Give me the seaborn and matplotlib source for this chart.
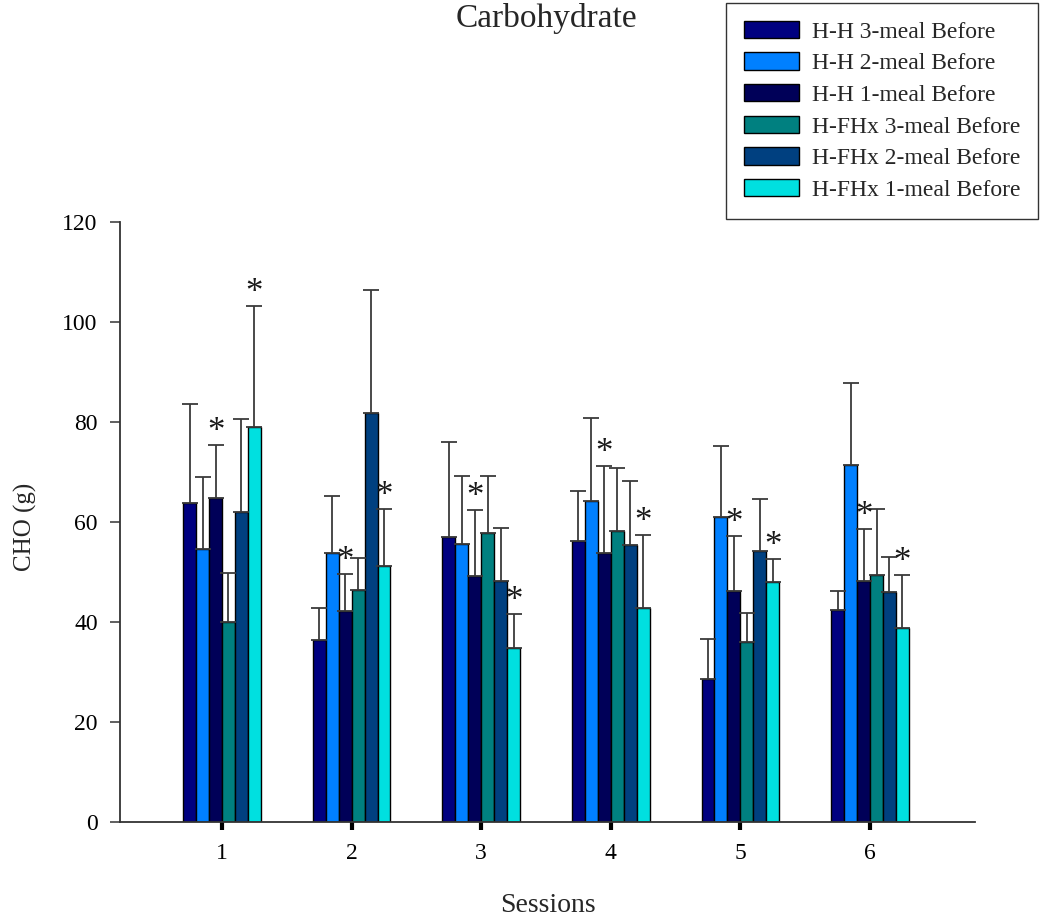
import numpy as np
import pandas as pd
import matplotlib
matplotlib.use("Agg")
import matplotlib.pyplot as plt
import seaborn as sns

sessions = ["1", "2", "3", "4", "5", "6"]
groups = ["H-H 3-meal Before", "H-H 2-meal Before", "H-H 1-meal Before",
          "H-FHx 3-meal Before", "H-FHx 2-meal Before", "H-FHx 1-meal Before"]
colors = ["#000080", "#0080FF", "#000058", "#008080", "#004080", "#00E0E0"]

hh3_mean = [63.9, 36.4, 57.1, 56.3, 28.7, 42.5]
hh2_mean = [54.7, 53.9, 55.6, 64.2, 61.1, 71.4]
hh1_mean = [64.8, 42.2, 49.2, 53.9, 46.2, 48.3]
hf3_mean = [40.1, 46.5, 57.8, 58.3, 36.0, 49.4]
hf2_mean = [62.1, 81.8, 48.3, 55.5, 54.3, 46.1]
hf1_mean = [79.1, 51.3, 34.9, 42.8, 48.0, 38.8]

hh3_top = [83.6, 42.9, 76.0, 66.2, 36.7, 46.3]
hh2_top = [69.0, 65.3, 69.3, 80.9, 75.3, 87.9]
hh1_top = [75.5, 49.7, 62.5, 71.3, 57.3, 58.7]
hf3_top = [49.9, 52.9, 69.3, 70.9, 41.9, 62.7]
hf2_top = [80.6, 106.4, 58.9, 68.3, 64.7, 53.1]
hf1_top = [103.2, 62.6, 41.7, 57.4, 52.7, 49.5]

# significance markers
star_hh1 = [1, 1, 1, 1, 1, 1]
star_hf1 = [1, 1, 1, 1, 1, 1]

means = [hh3_mean, hh2_mean, hh1_mean, hf3_mean, hf2_mean, hf1_mean]
tops = [hh3_top, hh2_top, hh1_top, hf3_top, hf2_top, hf1_top]
stars = [None, None, star_hh1, None, None, star_hf1]

rows = []
for g, m in zip(groups, means):
    for s, v in zip(sessions, m):
        rows.append({"Session": s, "Group": g, "CHO": v})
df = pd.DataFrame(rows)

sns.set_theme(style="white")
plt.rcParams["font.family"] = ["Liberation Serif", "DejaVu Serif"]

fig = plt.figure(figsize=(10.41, 9.22), dpi=100)
ax = fig.add_axes([120/1041, 1-822/922, (975-120)/1041, 600/922])

sns.barplot(data=df, x="Session", y="CHO", hue="Group", order=sessions,
            hue_order=groups, palette=colors, width=0.6, errorbar=None,
            edgecolor="black", linewidth=1.0, ax=ax, saturation=1, legend=True)

bar_containers = list(ax.containers)
for i, cont in enumerate(bar_containers):
    xs = [p.get_x() + p.get_width()/2 for p in cont.patches]
    hs = [p.get_height() for p in cont.patches]
    errs = [t - h for t, h in zip(tops[i], hs)]
    ax.errorbar(xs, hs, yerr=[np.zeros(len(hs)), errs], fmt="none",
                ecolor="#3a3a3a", elinewidth=1.3, capsize=6, capthick=1.3, zorder=1)
    if stars[i] is not None:
        for x, t, st in zip(xs, tops[i], stars[i]):
            if st:
                ax.text(x, t - 0.8, "*", ha="center", va="bottom", fontsize=25,
                        color="#1a1a1a")

ax.set_ylim(0, 120)
ax.set_xlim(0.213 - 1, 6.81 - 1)
ax.set_yticks(np.arange(0, 121, 20))
ax.tick_params(axis="both", labelsize=17, direction="out", colors="black",
               left=True, bottom=True)
ax.tick_params(axis="y", length=7, width=1.2, pad=9, color="#444444")
ax.tick_params(axis="x", width=3, length=6, pad=9)
for sp in ["top", "right"]:
    ax.spines[sp].set_visible(False)
for sp in ["left", "bottom"]:
    ax.spines[sp].set_color("#333333")
    ax.spines[sp].set_linewidth(1.3)
ax.set_xlabel("Sessions", fontsize=20, va="center")
ax.xaxis.set_label_coords(0.5, (822-905)/600)
ax.set_ylabel("CHO (g)", fontsize=18, va="center")
ax.yaxis.set_label_coords((25-120)/855, (822-527)/600)

fig.text(546/1041, 1-19/922, "Carbohydrate", fontsize=24, ha="center", va="center")

handles, labels = ax.get_legend_handles_labels()
ax.get_legend().remove()
leg = fig.legend(handles, labels, loc="upper right",
                 bbox_to_anchor=(1038/1041, 1-3/922), frameon=True, fancybox=False,
                 edgecolor="black", fontsize=17, handlelength=2.33, handleheight=0.76,
                 labelspacing=0.41, borderpad=0.75, handletextpad=0.55, borderaxespad=0)
leg.get_frame().set_linewidth(1.0)

fig.savefig("out.png", dpi=100)
